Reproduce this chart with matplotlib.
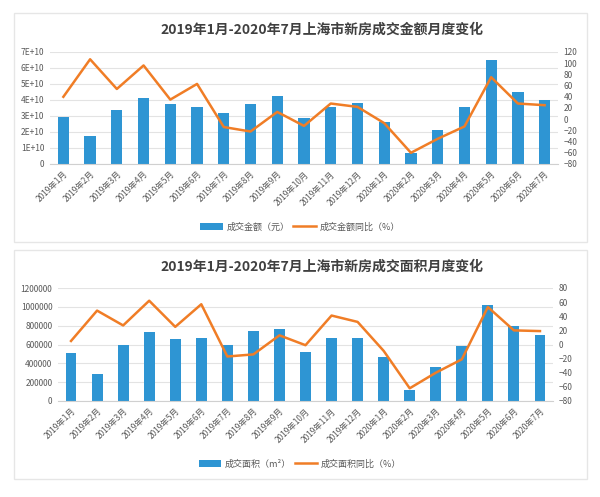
import numpy as np
import matplotlib.pyplot as plt
from matplotlib.patches import Rectangle
from matplotlib.ticker import FuncFormatter

plt.rcParams['font.family'] = ['Noto Sans CJK SC', 'DejaVu Sans']

months = ['2019年1月', '2019年2月', '2019年3月', '2019年4月', '2019年5月', '2019年6月',
          '2019年7月', '2019年8月', '2019年9月', '2019年10月', '2019年11月', '2019年12月',
          '2020年1月', '2020年2月', '2020年3月', '2020年4月', '2020年5月', '2020年6月',
          '2020年7月']

# 成交金额 (元)
amount = [2.93e10, 1.73e10, 3.35e10, 4.1e10, 3.73e10, 3.58e10, 3.19e10, 3.77e10, 4.23e10,
          2.9e10, 3.58e10, 3.79e10, 2.63e10, 0.67e10, 2.1e10, 3.54e10, 6.52e10, 4.5e10, 4.0e10]
# 成交金额同比 (%)
amount_yoy = [40, 107, 54, 96, 35, 63, -14, -22, 13, -12, 28, 22, -7, -60, -35, -13, 75, 28, 25]

# 成交面积 (m²)
area = [510000, 290000, 598000, 729000, 662000, 665000, 591000, 743000, 768000,
        517000, 665000, 673000, 471000, 113000, 361000, 580000, 1020000, 796000, 697000]
# 成交面积同比 (%)
area_yoy = [5, 48, 27, 62, 25, 57, -17, -14, 13, -1, 41, 32, -9, -62, -40, -21, 53, 20, 19]

BLUE = '#2E95D3'
ORANGE = '#F07D26'
GRID = '#E3E3E3'
TXT = '#595959'

fig = plt.figure(figsize=(6, 4.97), dpi=100)

W, H = 600, 497


def fig_box(x0, y0, x1, y1):
    # pixel box (top-left origin) -> figure fraction rect
    return [x0 / W, 1 - y1 / H, (x1 - x0) / W, (y1 - y0) / H]


def panel(box, ax_box, title, title_y, bars, line, ylim_l, ticks_l, fmt_l,
          ylim_r, ticks_r, bar_label, line_label, legend_y):
    b = fig_box(*box)
    fig.patches.append(Rectangle((b[0], b[1]), b[2], b[3], transform=fig.transFigure,
                                 fill=False, edgecolor='#E6E6E6', linewidth=1.0))
    ax = fig.add_axes(fig_box(*ax_box))
    x = np.arange(len(months))
    ax.bar(x, bars, width=0.42, color=BLUE, zorder=2, label=bar_label)
    ax.set_xlim(-0.5, len(months) - 0.5)
    ax.set_ylim(*ylim_l)
    ax.set_yticks(ticks_l)
    ax.yaxis.set_major_formatter(FuncFormatter(fmt_l))
    ax.grid(axis='y', color=GRID, linewidth=0.8, zorder=0)
    ax.set_axisbelow(True)
    for s in ['top', 'right', 'left']:
        ax.spines[s].set_visible(False)
    ax.spines['bottom'].set_color('#D0D0D0')
    ax.set_xticks(x)
    ax.set_xticklabels(months, rotation=45, ha='right', rotation_mode='anchor',
                       fontsize=6, color=TXT)
    ax.tick_params(axis='both', length=0, labelsize=6, colors=TXT, pad=4)

    ax2 = ax.twinx()
    ax2.plot(x, line, color=ORANGE, linewidth=1.8, zorder=3, label=line_label)
    ax2.set_ylim(*ylim_r)
    ax2.set_yticks(ticks_r)
    for s in ['top', 'right', 'left', 'bottom']:
        ax2.spines[s].set_visible(False)
    ax2.tick_params(axis='y', length=0, labelsize=6, colors=TXT, pad=4)

    fig.text(322 / W, title_y, title, ha='center', va='center', fontsize=10,
             fontweight='bold', color='#404040')
    h1, l1 = ax.get_legend_handles_labels()
    h2, l2 = ax2.get_legend_handles_labels()
    fig.legend(h1 + h2, l1 + l2, loc='center', bbox_to_anchor=(0.5, legend_y), ncol=2,
               frameon=False, fontsize=6.5, labelcolor=TXT, handlelength=2.5,
               columnspacing=0.4, handletextpad=0.4)
    return ax, ax2


panel((14, 13, 587, 242), (50, 52, 558, 164),
      '2019年1月-2020年7月上海市新房成交金额月度变化', 1 - 30 / H,
      amount, amount_yoy, (0, 7e10), np.arange(0, 8e10, 1e10),
      lambda v, p: '0' if v == 0 else '%dE+10' % round(v / 1e10),
      (-80, 120), np.arange(-80, 121, 20),
      '成交金额（元）', '成交金额同比（%）', 1 - 227 / H)

panel((14, 250, 587, 479), (58, 288, 553, 401),
      '2019年1月-2020年7月上海市新房成交面积月度变化', 1 - 267 / H,
      area, area_yoy, (0, 1200000), np.arange(0, 1200001, 200000),
      lambda v, p: '%d' % v,
      (-80, 80), np.arange(-80, 81, 20),
      '成交面积（m²）', '成交面积同比（%）', 1 - 464 / H)

fig.savefig('out.png', dpi=100)
